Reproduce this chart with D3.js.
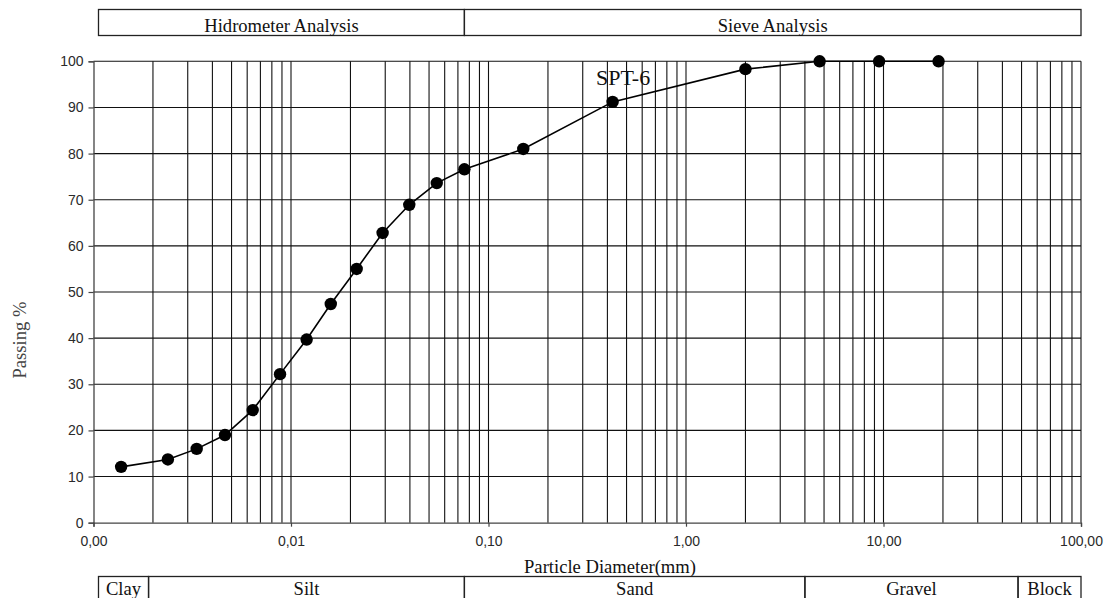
<!DOCTYPE html>
<html>
<head>
<meta charset="utf-8">
<script src="https://cdn.jsdelivr.net/npm/d3@7"></script>
<style>
  body { margin: 0; background: #fff; }
  svg { display: block; }
</style>
</head>
<body>
<div id="chart"></div>
<script>
// grain size distribution, SPT-6
var seriesName = "SPT-6";
var diameters = [0.00138, 0.00238, 0.00333, 0.00463, 0.0064, 0.0088, 0.0120, 0.0159, 0.0215, 0.0291, 0.0397, 0.0547, 0.0755, 0.150, 0.425, 2.00, 4.75, 9.5, 19.0];
var passing = [12.1, 13.7, 16.0, 19.0, 24.4, 32.2, 39.7, 47.4, 55.0, 62.8, 68.9, 73.6, 76.6, 81.0, 91.2, 98.3, 100, 100, 100];

var xTickValues = [0.001, 0.01, 0.1, 1, 10, 100];
var xTickLabels = ["0,00", "0,01", "0,10", "1,00", "10,00", "100,00"];
var yTickValues = [0, 10, 20, 30, 40, 50, 60, 70, 80, 90, 100];

// analysis bands (top) and soil classes (bottom), limits in mm
var analysisNames = ["Hidrometer Analysis", "Sieve Analysis"];
var analysisLimits = [0.00106, 0.0755, 100];
var soilNames = ["Clay", "Silt", "Sand", "Gravel", "Block"];
var soilLimits = [0.00106, 0.0019, 0.0755, 4.0, 48, 100];

var width = 1111, height = 598;
var serif = "'Liberation Serif', 'Times New Roman', serif";
var sans = "'Liberation Sans', Arial, sans-serif";

var svg = d3.select("#chart").append("svg")
    .attr("width", width)
    .attr("height", height);

var x = d3.scaleLog().domain([0.001, 100]).range([93.5, 1081]);
var y = d3.scaleLinear().domain([0, 100]).range([522.7, 61.3]);

// vertical grid (log minor lines)
svg.append("g").selectAll("line")
    .data(x.ticks().filter(d => d > 0.001))
    .enter().append("line")
    .attr("x1", d => x(d)).attr("x2", d => x(d))
    .attr("y1", y(0)).attr("y2", y(100))
    .attr("stroke", "#111")
    .attr("stroke-width", 1.1);

// horizontal grid
svg.append("g").selectAll("line")
    .data(yTickValues.filter(d => d > 0))
    .enter().append("line")
    .attr("x1", x(0.001)).attr("x2", x(100))
    .attr("y1", d => y(d)).attr("y2", d => y(d))
    .attr("stroke", "#111")
    .attr("stroke-width", 1.1);

// axes
var yAxis = svg.append("g")
    .attr("transform", "translate(" + x(0.001) + ",0)")
    .call(d3.axisLeft(y).tickValues(yTickValues).tickSize(5).tickPadding(5));
var xAxis = svg.append("g")
    .attr("transform", "translate(0," + y(0) + ")")
    .call(d3.axisBottom(x).tickValues(xTickValues).tickSize(4).tickPadding(9)
        .tickFormat((d, i) => xTickLabels[i]));

[yAxis, xAxis].forEach(function(a){
    a.select(".domain").attr("stroke", "#444").attr("stroke-width", 1.3);
    a.selectAll(".tick line").attr("stroke", "#444").attr("stroke-width", 1.2);
    a.selectAll(".tick text")
        .attr("fill", "#2a2a2a")
        .style("font-family", sans)
        .style("font-size", "14px");
});

// curve, straight segments between readings
var line = d3.line()
    .x((d, i) => x(diameters[i]))
    .y(d => y(d));

svg.append("path")
    .datum(passing)
    .attr("d", line)
    .attr("fill", "none")
    .attr("stroke", "#000")
    .attr("stroke-width", 1.6);

svg.append("g").selectAll("circle")
    .data(passing)
    .enter().append("circle")
    .attr("cx", (d, i) => x(diameters[i]))
    .attr("cy", d => y(d))
    .attr("r", 6.2)
    .attr("fill", "#000");

svg.append("text")
    .attr("x", x(0.48))
    .attr("y", y(94.8))
    .attr("text-anchor", "middle")
    .style("font-family", serif)
    .style("font-size", "22px")
    .attr("fill", "#111")
    .text(seriesName);

// band boxes
function bands(names, limits, y0, y1, baseline){
    var g = svg.append("g");
    g.selectAll("rect")
        .data(names)
        .enter().append("rect")
        .attr("x", (d, i) => x(limits[i]))
        .attr("y", y0)
        .attr("width", (d, i) => x(limits[i + 1]) - x(limits[i]))
        .attr("height", y1 - y0)
        .attr("fill", "none")
        .attr("stroke", "#222")
        .attr("stroke-width", 1.3);
    g.selectAll("text")
        .data(names)
        .enter().append("text")
        .attr("x", (d, i) => (x(limits[i]) + x(limits[i + 1])) / 2)
        .attr("y", baseline)
        .attr("text-anchor", "middle")
        .style("font-family", serif)
        .style("font-size", "18.6px")
        .attr("fill", "#111")
        .text(d => d);
}
bands(analysisNames, analysisLimits, 9.5, 35.5, 31.5);
bands(soilNames, soilLimits, 576.5, 612, 595);

// axis titles
svg.append("text")
    .attr("x", 610)
    .attr("y", 573)
    .attr("text-anchor", "middle")
    .style("font-family", serif)
    .style("font-size", "18.6px")
    .attr("fill", "#111")
    .text("Particle Diameter(mm)");

svg.append("text")
    .attr("transform", "translate(26,340) rotate(-90)")
    .attr("text-anchor", "middle")
    .style("font-family", serif)
    .style("font-size", "18.6px")
    .attr("fill", "#444")
    .text("Passing %");
</script>
</body>
</html>
